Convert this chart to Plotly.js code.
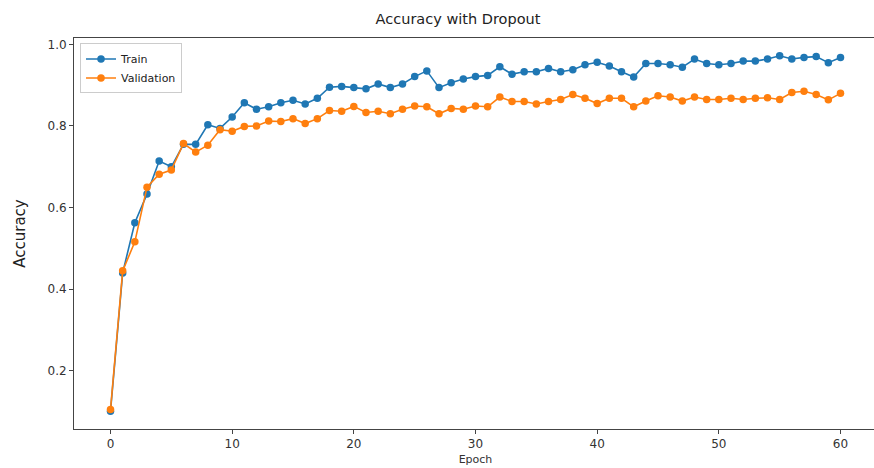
<!DOCTYPE html>
<html>
<head>
<meta charset="utf-8">
<script src="https://cdn.plot.ly/plotly-3.0.1.min.js"></script>
<style>
html,body{margin:0;padding:0;overflow:hidden;background:#fff;}
#chart{width:878px;height:468px;}
</style>
</head>
<body>
<div id="chart"></div>
<script>
const epochs = Array.from({length: 61}, (_, i) => i);
const trainAcc = [0.101,0.440,0.563,0.633,0.714,0.700,0.755,0.755,0.803,0.794,
  0.822,0.857,0.841,0.847,0.857,0.863,0.854,0.868,0.895,0.897,
  0.894,0.891,0.903,0.894,0.903,0.921,0.935,0.894,0.906,0.915,
  0.921,0.924,0.945,0.927,0.933,0.933,0.941,0.933,0.938,0.950,
  0.956,0.947,0.933,0.920,0.953,0.953,0.950,0.944,0.964,0.953,
  0.950,0.953,0.959,0.959,0.964,0.972,0.964,0.968,0.970,0.955,0.968];
const valAcc = [0.105,0.445,0.516,0.650,0.682,0.692,0.757,0.736,0.753,0.791,
  0.787,0.799,0.800,0.812,0.811,0.818,0.806,0.818,0.838,0.836,
  0.848,0.833,0.836,0.830,0.841,0.849,0.847,0.830,0.843,0.841,
  0.849,0.847,0.871,0.860,0.860,0.854,0.860,0.865,0.877,0.868,
  0.855,0.868,0.868,0.847,0.861,0.874,0.871,0.861,0.871,0.865,
  0.865,0.868,0.865,0.868,0.869,0.865,0.882,0.885,0.877,0.864,0.880];
const seriesNames = ['Train', 'Validation'];
const xTicks = [0, 10, 20, 30, 40, 50, 60];
const yTicks = [0.2, 0.4, 0.6, 0.8, 1.0];

const FONT = 'DejaVu Sans, sans-serif';
const traces = [
  {x: epochs, y: trainAcc, name: seriesNames[0], type: 'scatter', mode: 'lines+markers',
   line: {color: '#1f77b4', width: 1.6}, marker: {color: '#1f77b4', size: 7.5}},
  {x: epochs, y: valAcc, name: seriesNames[1], type: 'scatter', mode: 'lines+markers',
   line: {color: '#ff7f0e', width: 1.6}, marker: {color: '#ff7f0e', size: 7.5}}
];
const layout = {
  width: 878, height: 468,
  margin: {l: 74, r: 1, t: 38, b: 39},
  paper_bgcolor: '#fff', plot_bgcolor: '#fff',
  font: {family: FONT, size: 12, color: '#333'},
  title: {text: 'Accuracy with Dropout', x: 458/878, xanchor: 'center',
          y: 1 - 19/468, yanchor: 'middle', yref: 'container',
          font: {family: FONT, size: 14.5, color: '#222'}},
  xaxis: {range: [-3, 63], tickvals: xTicks, ticktext: xTicks.map(String),
          ticks: 'outside', ticklen: 4, tickcolor: '#444', showline: true, linecolor: '#444',
          linewidth: 1, mirror: true, showgrid: false, zeroline: false,
          tickfont: {family: FONT, size: 12, color: '#333'},
          title: {text: 'Epoch', font: {family: FONT, size: 11, color: '#333'}, standoff: 4}},
  yaxis: {range: [0.0574, 1.0156], tickvals: yTicks, ticktext: yTicks.map(v => v.toFixed(1)),
          ticks: 'outside', ticklen: 4, tickcolor: '#444', showline: true, linecolor: '#444',
          linewidth: 1, mirror: true, showgrid: false, zeroline: false,
          tickfont: {family: FONT, size: 12, color: '#333'},
          title: {text: 'Accuracy', font: {family: FONT, size: 15, color: '#222'}, standoff: 18}},
  legend: {x: 0.0075, y: 0.986, xanchor: 'left', yanchor: 'top',
           bgcolor: 'rgba(255,255,255,0.8)', bordercolor: '#ccc', borderwidth: 1,
           font: {family: FONT, size: 11, color: '#222'}, itemwidth: 30, tracegroupgap: 0},
  showlegend: true
};
Plotly.newPlot('chart', traces, layout, {displayModeBar: false, staticPlot: true});
</script>
</body>
</html>
